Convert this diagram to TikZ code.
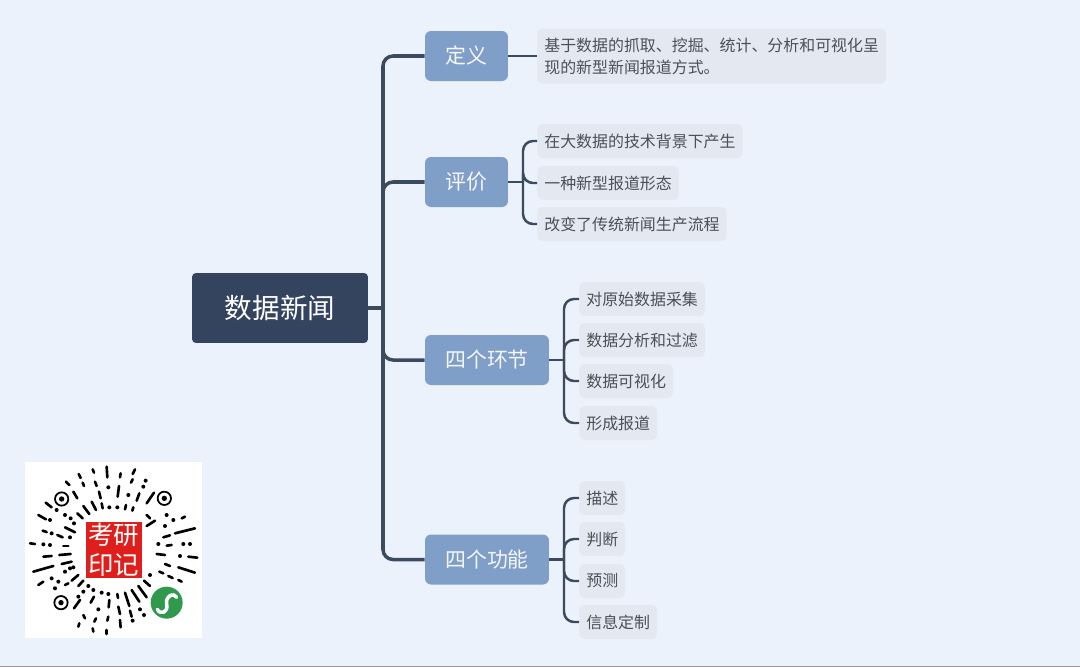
\documentclass[tikz,border=0pt]{standalone}
\usepackage{fontspec}
\setmainfont{Noto Sans CJK SC}
\definecolor{pagebg}{HTML}{EBF2FB}
\definecolor{rootfill}{HTML}{34445F}
\definecolor{branchfill}{HTML}{7F9EC8}
\definecolor{leaffill}{HTML}{E4E9F1}
\definecolor{leaftext}{HTML}{4A5058}
\definecolor{linkcol}{HTML}{3C4A60}
\definecolor{sealred}{HTML}{DE1F1C}
\definecolor{wxgreen}{HTML}{2F9A4E}
\begin{document}
\begin{tikzpicture}[x=0.02cm,y=-0.02cm,line join=round,
	rootbox/.style={fill=rootfill,text=white,rounded corners=0.08cm,minimum width=3.52cm,minimum height=1.4cm,inner sep=0pt,font=\fontsize{15.7}{18}\selectfont},
	branchbox/.style={fill=branchfill,text=white!92!branchfill,rounded corners=0.12cm,minimum height=1cm,inner sep=0pt,font=\fontsize{11.9}{14}\selectfont},
	leafbox/.style={fill=leaffill,text=leaftext,rounded corners=0.1cm,anchor=west,minimum height=0.68cm,inner xsep=0.14cm,inner ysep=0pt,align=left,font=\fontsize{9.07}{12.47}\selectfont},
	biglink/.style={draw=linkcol,line width=2pt,rounded corners=0.2cm},
	smalllink/.style={draw=linkcol,line width=1.4pt,rounded corners=0.2cm},
	qrmark/.style={line width=1.5pt,line cap=round,black}]
	\fill[pagebg] (0,0) rectangle (1080,667);
	\fill[black!40] (0,665.5) rectangle (1080,667);
	\useasboundingbox (0,0) rectangle (1080,667);
	% main nodes
	\node[rootbox] (root) at (280,308) {数据新闻};
	\node[branchbox,minimum width=1.66cm] (dingyi) at (466.5,56) {定义};
	\node[branchbox,minimum width=1.66cm] (pingjia) at (466.5,182) {评价};
	\node[branchbox,minimum width=2.48cm] (huanjie) at (487,360) {四个环节};
	\node[branchbox,minimum width=2.48cm] (gongneng) at (487,559.5) {四个功能};
	% leaves
	\node[leafbox,minimum height=1.1cm] (d1) at (537,56) {基于数据的抓取、挖掘、统计、分析和可视化呈\\现的新型新闻报道方式。};
	\node[leafbox] (p1) at (537,141) {在大数据的技术背景下产生};
	\node[leafbox] (p2) at (537,183) {一种新型报道形态};
	\node[leafbox] (p3) at (537,224) {改变了传统新闻生产流程};
	\node[leafbox] (h1) at (579,299) {对原始数据采集};
	\node[leafbox] (h2) at (579,340) {数据分析和过滤};
	\node[leafbox] (h3) at (579,381) {数据可视化};
	\node[leafbox] (h4) at (579,423) {形成报道};
	\node[leafbox] (g1) at (579,498) {描述};
	\node[leafbox] (g2) at (579,539) {判断};
	\node[leafbox] (g3) at (579,581) {预测};
	\node[leafbox] (g4) at (579,622) {信息定制};
	% links
	\coordinate (trunk) at (383,308);
	\coordinate (pj) at (523,182);
	\coordinate (hj) at (564,360);
	\coordinate (gn) at (564,559.5);
	\draw[biglink] (root.east) -- (trunk);
	\foreach \n in {dingyi,pingjia,huanjie,gongneng}
		\draw[biglink] (trunk) |- (\n.west);
	\draw[smalllink] (dingyi.east) -- (d1.west);
	\draw[smalllink] (pingjia.east) -- (pj) (huanjie.east) -- (hj) (gongneng.east) -- (gn);
	\foreach \n in {p1,p2,p3}
		\draw[smalllink] (pj) |- (\n.west);
	\foreach \n in {h1,h2,h3,h4}
		\draw[smalllink] (hj) |- (\n.west);
	\foreach \n in {g1,g2,g3,g4}
		\draw[smalllink] (gn) |- (\n.west);
	% qr code
	\fill[white] (25,462) rectangle (202,638);
	\begin{scope}[shift={(0,450)},x=0.006667cm,y=-0.006667cm]
	\foreach \xa/\ya/\xb/\yb in {320/50/322/82,362/70/360/82,405/58/398/72,398/88/393/98,278/58/282/68,236/72/242/84,248/98/252/108,198/95/208/105,285/95/290/108,357/108/353/140,297/125/302/145,220/125/232/145,418/130/410/152,462/128/440/160,250/168/268/192,275/155/288/180,305/160/308/175,378/165/375/178,400/172/397/182,137/158/155/172,115/195/138/208,232/190/248/205,195/232/225/247,440/195/450/205,465/212/440/228,545/205/555/200,525/250/585/235,490/262/510/256,128/242/140/246,172/255/188/262,90/280/105/282,190/288/205/288,500/287/515/285,130/320/155/318,178/315/212/312,470/312/495/315,565/320/592/323,185/342/215/335,100/365/160/348,495/342/510/348,535/352/585/368,115/405/130/395,478/365/490/370,505/378/518/384,535/390/545/395,215/392/235/375,195/405/205/400,235/408/250/392,432/392/450/408,415/408/440/442,395/420/418/455,375/428/388/468,352/432/354/444,240/450/222/475,272/458/282/440,328/450/326/472,355/470/360/492,390/482/395/500,250/495/255/505,288/505/283/515,325/500/322/512,360/510/362/532,238/520/235/530,278/535/280/545,320/540/320/552}
		\draw[qrmark] (\xa,\ya) -- (\xb,\yb);
	\foreach \xa/\ya in {437/92,325/112,385/135,430/110,328/172,352/172,170/180,150/210,195/195,212/205,222/220,500/195,520/210,495/228,155/250,210/262,130/283,150/285,475/282,550/282,570/282,540/318,195/365,210/355,220/352,155/385,450/375,175/395,165/415,305/428,325/432,265/408,280/420,250/425,235/440,420/478,432/495,295/478,398/512}
		\fill (\xa,\ya) circle (6);
	\foreach \xa/\ya in {185/147,493/145,183/458} {
		\draw[line width=1pt] (\xa,\ya) circle (20);
		\fill (\xa,\ya) circle (8);
	}
	\fill[sealred] (258,215) rectangle (425,383);
	\node[text=white,inner sep=0pt,align=center,font=\fontsize{14.5}{17}\selectfont] (seal) at (341,299) {考研\\印记};
	\fill[wxgreen] (500,458) circle (48);
	\draw[white,line width=2pt,line cap=round] (472,478) .. controls (480,496) and (506,488) .. (500,462) .. controls (496,436) and (522,426) .. (530,442);
	\end{scope}
	\end{tikzpicture}
\end{document}
